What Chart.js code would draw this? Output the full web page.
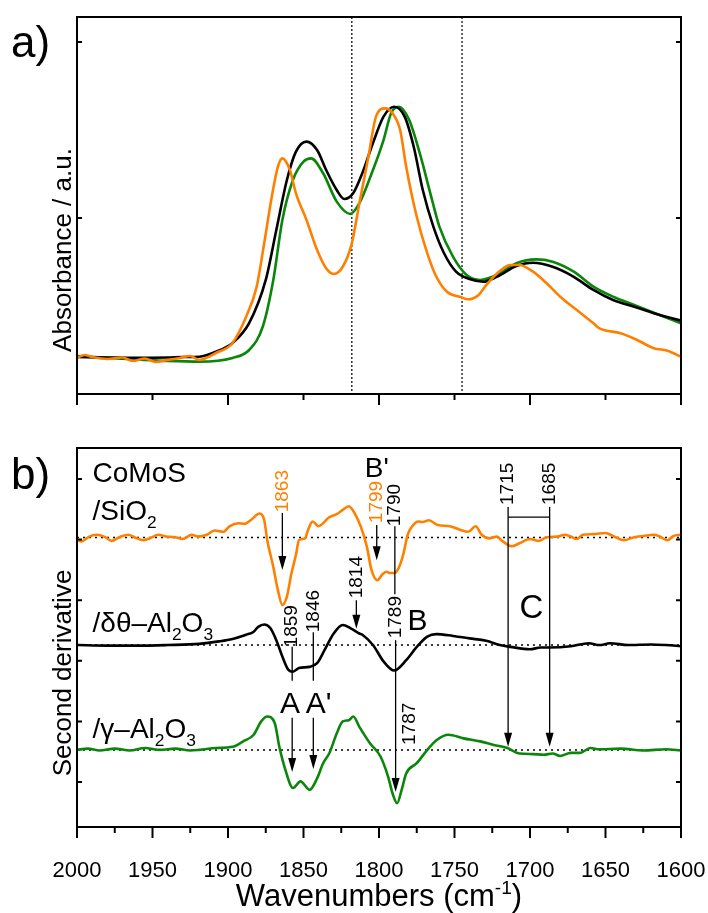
<!DOCTYPE html>
<html><head><meta charset="utf-8">
<script src="https://cdn.jsdelivr.net/npm/chart.js@4.4.1/dist/chart.umd.min.js"></script>
<style>
html,body{margin:0;padding:0;background:#fff;}
#wrap{position:relative;width:708px;height:913px;overflow:hidden;}
canvas{position:absolute;left:0;}
#ca{top:0;} #cb{top:420px;}
</style></head><body>
<div id="wrap"><canvas id="ca" width="708" height="420"></canvas><canvas id="cb" width="708" height="493"></canvas></div>
<script>
// ---------- Panel a) absorbance ----------
const absWnSiO2 = [2000,1995,1990,1980,1970,1963,1955,1948,1940,1932,1925,1919,1908,1897,1888,1881,1876,1871,1867,1864,1859,1855,1848,1841,1835,1830,1824,1818,1813,1807,1802,1796,1791,1786,1782,1775,1768,1762,1755,1746,1741,1734,1729,1720,1713,1707,1698,1689,1680,1669,1658,1654,1640,1629,1618,1609,1600];
const absSiO2 = [0.205,0.222,0.210,0.199,0.207,0.188,0.202,0.182,0.193,0.205,0.216,0.193,0.233,0.290,0.439,0.610,0.858,1.121,1.291,1.339,1.273,1.140,0.989,0.818,0.714,0.682,0.723,0.856,1.084,1.348,1.576,1.623,1.595,1.500,1.291,1.007,0.799,0.666,0.581,0.551,0.538,0.563,0.619,0.699,0.733,0.733,0.695,0.629,0.553,0.477,0.402,0.373,0.345,0.307,0.260,0.246,0.212];
const absWnDT = [2000,1980,1960,1940,1930,1919,1908,1897,1886,1875,1868,1861,1855,1848,1841,1835,1828,1823,1817,1811,1804,1797,1790,1783,1777,1771,1764,1757,1749,1740,1731,1722,1709,1698,1685,1671,1658,1645,1631,1618,1600];
const absDT = [0.210,0.207,0.205,0.207,0.210,0.212,0.240,0.290,0.403,0.648,0.932,1.216,1.377,1.434,1.386,1.273,1.159,1.108,1.142,1.256,1.426,1.576,1.632,1.576,1.405,1.159,0.951,0.801,0.695,0.653,0.638,0.666,0.727,0.746,0.723,0.666,0.591,0.534,0.496,0.459,0.417];
const absWnG = [2000,1980,1960,1940,1919,1897,1886,1877,1870,1864,1857,1850,1845,1837,1828,1819,1813,1804,1797,1792,1787,1780,1773,1766,1760,1751,1742,1733,1722,1709,1696,1685,1671,1658,1645,1631,1618,1600];
const absG = [0.216,0.205,0.196,0.188,0.184,0.205,0.250,0.382,0.648,0.989,1.216,1.320,1.339,1.254,1.093,1.023,1.084,1.273,1.443,1.595,1.632,1.557,1.368,1.140,0.951,0.780,0.676,0.648,0.676,0.743,0.765,0.752,0.695,0.610,0.553,0.506,0.462,0.402];
const markerLines = [1818, 1745];
const absTicks = [1, 2];

// ---------- Panel b) second derivative ----------
const derWnSiO2 = [2000,1997,1992,1987,1982,1977,1972,1966,1962,1956,1952,1946,1941,1935,1930,1924,1920,1914,1909,1903,1899,1893,1889,1885,1879,1876,1874,1870,1867,1864,1861,1858,1855,1853,1849,1847,1844,1840,1837,1833,1828,1824,1820,1816,1812,1808,1805,1801,1798,1795,1793,1790,1787,1784,1781,1778,1774,1771,1767,1761,1753,1746,1741,1736,1732,1727,1722,1718,1712,1707,1700,1694,1689,1682,1677,1673,1669,1665,1658,1650,1645,1638,1631,1625,1618,1614,1609,1605,1600];
const derSiO2 = [3.99,3.97,4.05,4.08,4.05,3.98,4.04,4.08,4.04,3.99,4.02,4.08,4.05,4.04,4.01,4.08,4.05,4.08,4.15,4.13,4.22,4.27,4.26,4.32,4.43,4.32,3.99,3.55,3.17,2.92,3.06,3.44,3.75,3.99,4.02,4.16,4.30,4.22,4.27,4.37,4.42,4.49,4.55,4.43,4.21,3.88,3.50,3.33,3.42,3.47,3.45,3.45,3.53,3.75,4.08,4.22,4.30,4.29,4.32,4.24,4.22,4.16,4.13,4.22,4.08,4.02,4.05,3.97,3.89,3.94,4.01,3.98,4.04,4.05,4.08,4.05,4.01,4.08,4.09,4.11,4.06,3.99,4.04,4.06,4.08,4.05,3.99,4.06,4.08];
const derWnDT = [2000,1980,1960,1940,1919,1906,1897,1888,1883,1880,1876,1872,1868,1864,1860,1857,1853,1846,1841,1836,1830,1824,1819,1817,1813,1811,1804,1797,1790,1782,1775,1768,1762,1751,1740,1729,1720,1713,1700,1693,1687,1673,1661,1654,1647,1635,1620,1610,1600];
const derDT = [2.26,2.25,2.25,2.26,2.28,2.32,2.36,2.43,2.48,2.56,2.60,2.54,2.34,2.07,1.85,1.82,1.88,1.90,1.96,2.18,2.45,2.59,2.54,2.51,2.45,2.43,2.26,1.99,1.84,2.01,2.23,2.40,2.44,2.41,2.37,2.33,2.26,2.23,2.19,2.22,2.22,2.24,2.29,2.26,2.29,2.26,2.27,2.26,2.24];
const derWnG = [2000,1993,1985,1975,1965,1955,1945,1935,1925,1919,1908,1897,1890,1883,1878,1874,1869,1866,1862,1857,1852,1846,1841,1837,1833,1828,1824,1820,1817,1813,1806,1799,1794,1791,1788,1785,1782,1775,1768,1762,1754,1744,1733,1724,1715,1707,1698,1691,1685,1680,1673,1667,1660,1654,1640,1625,1610,1600];
const derG = [0.53,0.55,0.52,0.55,0.52,0.56,0.53,0.55,0.52,0.53,0.56,0.58,0.67,0.78,1.00,1.08,0.97,0.58,0.20,-0.10,0.01,-0.13,0.06,0.31,0.47,0.80,1.00,1.02,1.08,0.91,0.64,0.42,0.09,-0.19,-0.35,-0.13,0.14,0.31,0.53,0.69,0.78,0.72,0.67,0.61,0.56,0.47,0.46,0.45,0.47,0.43,0.48,0.48,0.56,0.54,0.55,0.52,0.54,0.52];
const zeroLevels = [4.035, 2.261, 0.528];
const derTicks = [0, 1, 2, 3, 4, 5];
const xTickLabels = [2000,1950,1900,1850,1800,1750,1700,1650,1600];

// annotation content: band labels (wavenumber, level)
const bandLabels = [
  {t:'1863', wn:1864, v:4.80, c:'orange'},
  {t:'1799', wn:1801.5, v:4.62, c:'orange'},
  {t:'1790', wn:1789.5, v:4.57},
  {t:'1715', wn:1714.5, v:4.92},
  {t:'1685', wn:1687, v:4.92},
  {t:'1814', wn:1815, v:3.38},
  {t:'1859', wn:1857.5, v:2.57},
  {t:'1846', wn:1843.5, v:2.82},
  {t:'1789', wn:1789, v:2.72},
  {t:'1787', wn:1779.5, v:0.96}
];
const bandArrows = [
  {wn:1864, v1:4.44, v2:3.50, head:true},
  {wn:1801.5, v1:4.24, v2:3.66, head:true},
  {wn:1789.5, v1:4.22, v2:3.10, head:false},
  {wn:1789, v1:2.34, v2:-0.165, head:true},
  {wn:1815, v1:3.00, v2:2.53, head:true},
  {wn:1857.5, v1:2.23, v2:1.67, head:false},
  {wn:1857.5, v1:1.06, v2:0.165, head:true},
  {wn:1843.5, v1:2.47, v2:1.67, head:false},
  {wn:1843.5, v1:1.06, v2:0.215, head:true},
  {wn:1714.5, v1:4.54, v2:0.58, head:true},
  {wn:1687, v1:4.54, v2:0.58, head:true}
];
const bandBracket = {wn1:1714.5, wn2:1687, v:4.37};
const letterLabels = [
  {t:"B'", wn:1801.5, v:5.03, s:28},
  {t:'B', wn:1774.5, v:2.51, s:30},
  {t:'C', wn:1699, v:2.70, s:33},
  {t:'A', wn:1859, v:1.14, s:30},
  {t:"A'", wn:1840, v:1.14, s:30}
];
const sampleLabels = [
  {parts:[['CoMoS',0]], wn:1989.7, v:4.95},
  {parts:[['/SiO',0],['2',1]], wn:1989.7, v:4.32},
  {parts:[['/\u03b4\u03b8\u2013Al',0],['2',1],['O',0],['3',1]], wn:1989.7, v:2.475},
  {parts:[['/\u03b3\u2013Al',0],['2',1],['O',0],['3',1]], wn:1989.7, v:0.726}
];

const COL = {orange:'#FF8000', black:'#000000', green:'#0A860A'};
const FF = '"Liberation Sans", Arial, Helvetica, sans-serif';
const fnt = s => s + 'px ' + FF;
const pts = (xs, ys) => xs.map((x, i) => ({x, y: ys[i]}));

function drawRich(ctx, parts, x, y, size, align){
  const sz = m => m ? size * 0.62 : size;
  let total = 0;
  parts.forEach(([t, m]) => { ctx.font = fnt(sz(m)); total += ctx.measureText(t).width; });
  let cx = align === 'center' ? x - total / 2 : x;
  ctx.textAlign = 'left'; ctx.textBaseline = 'alphabetic';
  parts.forEach(([t, m]) => {
    ctx.font = fnt(sz(m));
    const dy = m === 1 ? size * 0.27 : (m === 2 ? -size * 0.40 : 0);
    ctx.fillText(t, cx, y + dy);
    cx += ctx.measureText(t).width;
  });
}
function rotText(ctx, t, x, y, size, baseline){
  ctx.save(); ctx.translate(x, y); ctx.rotate(-Math.PI / 2);
  ctx.font = fnt(size); ctx.textAlign = 'center'; ctx.textBaseline = baseline || 'middle';
  ctx.fillText(t, 0, 0); ctx.restore();
}
function frame(chart){
  const {ctx, chartArea: a} = chart;
  ctx.save(); ctx.strokeStyle = '#000'; ctx.lineWidth = 2;
  ctx.strokeRect(a.left, a.top, a.right - a.left, a.bottom - a.top); ctx.restore();
}
function xTicks(chart, step, major, lMaj, lMin){
  const {ctx, chartArea: a, scales: {x}} = chart;
  ctx.save(); ctx.strokeStyle = '#000'; ctx.lineWidth = 2;
  for (let w = x.min; w <= x.max + 1e-6; w += step){
    const px = x.getPixelForValue(w);
    const len = (Math.abs(w % major) < 1e-6) ? lMaj : lMin;
    ctx.beginPath(); ctx.moveTo(px, a.bottom); ctx.lineTo(px, a.bottom + len); ctx.stroke();
  }
  ctx.restore();
}
function yTicks(chart, list){
  const {ctx, chartArea: a, scales: {y}} = chart;
  ctx.save(); ctx.strokeStyle = '#000'; ctx.lineWidth = 2;
  list.forEach(v => {
    const py = y.getPixelForValue(v);
    ctx.beginPath(); ctx.moveTo(a.left, py); ctx.lineTo(a.left + 5, py);
    ctx.moveTo(a.right, py); ctx.lineTo(a.right - 5, py); ctx.stroke();
  });
  ctx.restore();
}
function opts(ymin, ymax, pad){
  return {
    responsive: false, animation: false, events: [],
    layout: {padding: pad},
    plugins: {legend: {display: false}, tooltip: {enabled: false}},
    elements: {point: {radius: 0}, line: {borderWidth: 2.6, cubicInterpolationMode: 'monotone', borderCapStyle: 'round', borderJoinStyle: 'round'}},
    scales: {
      x: {type: 'linear', min: 1600, max: 2000, reverse: true, display: false},
      y: {type: 'linear', min: ymin, max: ymax, display: false}
    }
  };
}
function ds(label, data, color){ return {label, data, borderColor: color, backgroundColor: color, fill: false}; }

// ---------- Chart a ----------
const plugA = {
  id: 'decoA',
  beforeDatasetsDraw(chart){
    const {ctx, chartArea: a, scales: {x}} = chart;
    ctx.save(); ctx.strokeStyle = '#000'; ctx.lineWidth = 1.2; ctx.setLineDash([2, 2]);
    markerLines.forEach(w => { const px = x.getPixelForValue(w); ctx.beginPath(); ctx.moveTo(px, a.top); ctx.lineTo(px, a.bottom); ctx.stroke(); });
    ctx.restore();
  },
  afterDraw(chart){
    const {ctx, chartArea: a} = chart;
    frame(chart); xTicks(chart, 50, 100, 11, 6); yTicks(chart, absTicks);
    ctx.save(); ctx.fillStyle = '#000';
    ctx.font = fnt(44); ctx.textAlign = 'left'; ctx.textBaseline = 'alphabetic';
    ctx.fillText('a)', a.left - 66, a.top + 40);
    rotText(ctx, 'Absorbance / a.u.', a.left - 6, a.top + 233, 26, 'alphabetic');
    ctx.restore();
  }
};
new Chart(document.getElementById('ca'), {
  type: 'line',
  data: {datasets: [
    ds('CoMoS/SiO2', pts(absWnSiO2, absSiO2), COL.orange),
    ds('CoMoS/δθ-Al2O3', pts(absWnDT, absDT), COL.black),
    ds('CoMoS/γ-Al2O3', pts(absWnG, absG), COL.green)
  ]},
  options: opts(0, 2.142, {left: 77, right: 27, top: 17, bottom: 26}),
  plugins: [plugA]
});

// ---------- Chart b ----------
const plugB = {
  id: 'decoB',
  beforeDatasetsDraw(chart){
    const {ctx, chartArea: a, scales: {y}} = chart;
    ctx.save(); ctx.strokeStyle = '#000'; ctx.lineWidth = 1.4; ctx.setLineDash([2, 4]);
    zeroLevels.forEach(v => { const py = y.getPixelForValue(v); ctx.beginPath(); ctx.moveTo(a.left, py); ctx.lineTo(a.right, py); ctx.stroke(); });
    ctx.restore();
  },
  afterDraw(chart){
    const {ctx, chartArea: a, scales: {x, y}} = chart;
    frame(chart); xTicks(chart, 25, 50, 11, 6); yTicks(chart, derTicks);
    ctx.save(); ctx.fillStyle = '#000';
    // tick labels
    ctx.font = fnt(22); ctx.textAlign = 'center'; ctx.textBaseline = 'alphabetic';
    xTickLabels.forEach(w => ctx.fillText(String(w), x.getPixelForValue(w), a.bottom + 50));
    drawRich(ctx, [['Wavenumbers (cm', 0], ['-1', 2], [')', 0]], (a.left + a.right) / 2, a.bottom + 79, 31, 'center');
    ctx.font = fnt(44); ctx.textAlign = 'left';
    ctx.fillText('b)', a.left - 66, a.top + 41);
    rotText(ctx, 'Second derivative', a.left - 6, a.top + 225, 26, 'alphabetic');
    // sample labels
    sampleLabels.forEach(s => drawRich(ctx, s.parts, x.getPixelForValue(s.wn), y.getPixelForValue(s.v), 28, 'left'));
    // letters
    letterLabels.forEach(l => { ctx.font = fnt(l.s); ctx.textAlign = 'center'; ctx.fillText(l.t, x.getPixelForValue(l.wn), y.getPixelForValue(l.v)); });
    // arrows
    ctx.strokeStyle = '#000'; ctx.lineWidth = 1.3;
    bandArrows.forEach(ar => {
      const px = x.getPixelForValue(ar.wn), p1 = y.getPixelForValue(ar.v1), p2 = y.getPixelForValue(ar.v2);
      ctx.beginPath(); ctx.moveTo(px, p1); ctx.lineTo(px, ar.head ? p2 - 10 : p2); ctx.stroke();
      if (ar.head){ ctx.beginPath(); ctx.moveTo(px, p2); ctx.lineTo(px - 4, p2 - 14); ctx.lineTo(px + 4, p2 - 14); ctx.closePath(); ctx.fill(); }
    });
    const by = y.getPixelForValue(bandBracket.v);
    ctx.beginPath(); ctx.moveTo(x.getPixelForValue(bandBracket.wn1), by); ctx.lineTo(x.getPixelForValue(bandBracket.wn2), by); ctx.stroke();
    // band labels
    bandLabels.forEach(b => { ctx.fillStyle = b.c ? COL[b.c] : '#000'; rotText(ctx, b.t, x.getPixelForValue(b.wn), y.getPixelForValue(b.v), 19, 'middle'); });
    ctx.restore();
  }
};
new Chart(document.getElementById('cb'), {
  type: 'line',
  data: {datasets: [
    ds('CoMoS/SiO2', pts(derWnSiO2, derSiO2), COL.orange),
    ds('CoMoS/δθ-Al2O3', pts(derWnDT, derDT), COL.black),
    ds('CoMoS/γ-Al2O3', pts(derWnG, derG), COL.green)
  ]},
  options: opts(-0.743, 5.512, {left: 77, right: 27, top: 28, bottom: 86}),
  plugins: [plugB]
});
</script>
</body></html>
